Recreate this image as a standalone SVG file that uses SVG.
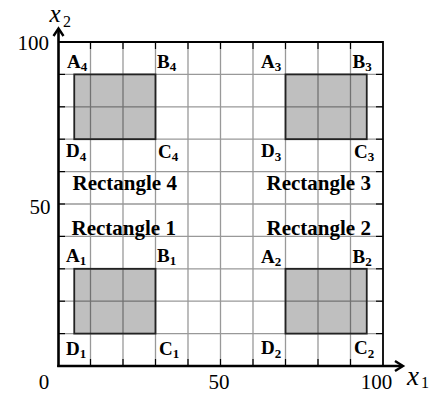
<svg xmlns="http://www.w3.org/2000/svg" width="431" height="393" viewBox="0 0 431 393">
<defs>
<style>
.grid line{stroke:#999;stroke-width:1.3}
.tick line{stroke:#000;stroke-width:1.2}
.box{fill:#000;fill-opacity:0.25;stroke:#222;stroke-width:1.8}
text{font-family:'Liberation Serif','DejaVu Serif',serif;fill:#000}
.lbl{font-weight:bold;font-size:19px}
.sub{font-size:13px}
.title{font-weight:bold;font-size:21px}
.num{font-size:21px}
.ax{font-style:italic;font-size:27px}
.axs{font-size:16px}
</style>
</defs>
<rect width="431" height="393" fill="#fff"/>
<g id="grid" class="grid">
<line x1="90.5" y1="42" x2="90.5" y2="366"/>
<line x1="123" y1="42" x2="123" y2="366"/>
<line x1="155.5" y1="42" x2="155.5" y2="366"/>
<line x1="188" y1="42" x2="188" y2="366"/>
<line x1="220.5" y1="42" x2="220.5" y2="366"/>
<line x1="253" y1="42" x2="253" y2="366"/>
<line x1="285.5" y1="42" x2="285.5" y2="366"/>
<line x1="318" y1="42" x2="318" y2="366"/>
<line x1="350.5" y1="42" x2="350.5" y2="366"/>
<line x1="58" y1="74.4" x2="383" y2="74.4"/>
<line x1="58" y1="106.8" x2="383" y2="106.8"/>
<line x1="58" y1="139.2" x2="383" y2="139.2"/>
<line x1="58" y1="171.6" x2="383" y2="171.6"/>
<line x1="58" y1="204" x2="383" y2="204"/>
<line x1="58" y1="236.4" x2="383" y2="236.4"/>
<line x1="58" y1="268.8" x2="383" y2="268.8"/>
<line x1="58" y1="301.2" x2="383" y2="301.2"/>
<line x1="58" y1="333.6" x2="383" y2="333.6"/>
</g>
<g id="rect4">
<rect class="box" x="74.25" y="74.4" width="81.25" height="64.8"/>
<text class="lbl" x="67" y="67.5">A<tspan class="sub" dy="3.5">4</tspan></text>
<text class="lbl" x="157" y="67.5">B<tspan class="sub" dy="3.5">4</tspan></text>
<text class="lbl" x="66" y="157">D<tspan class="sub" dy="3.5">4</tspan></text>
<text class="lbl" x="158" y="157.5">C<tspan class="sub" dy="3.5">4</tspan></text>
<text class="title" x="72.5" y="189.7">Rectangle 4</text>
</g>
<g id="rect3">
<rect class="box" x="285.5" y="74.4" width="81.25" height="64.8"/>
<text class="lbl" x="261" y="67.5">A<tspan class="sub" dy="3.5">3</tspan></text>
<text class="lbl" x="352.5" y="67.5">B<tspan class="sub" dy="3.5">3</tspan></text>
<text class="lbl" x="261" y="157">D<tspan class="sub" dy="3.5">3</tspan></text>
<text class="lbl" x="354" y="157.5">C<tspan class="sub" dy="3.5">3</tspan></text>
<text class="title" x="266.5" y="189.7">Rectangle 3</text>
</g>
<g id="rect1">
<rect class="box" x="74.25" y="268.8" width="81.25" height="64.8"/>
<text class="lbl" x="66" y="261.5">A<tspan class="sub" dy="3.5">1</tspan></text>
<text class="lbl" x="157" y="261.5">B<tspan class="sub" dy="3.5">1</tspan></text>
<text class="lbl" x="66" y="354.5">D<tspan class="sub" dy="3.5">1</tspan></text>
<text class="lbl" x="159" y="354.5">C<tspan class="sub" dy="3.5">1</tspan></text>
<text class="title" x="71.5" y="235">Rectangle 1</text>
</g>
<g id="rect2">
<rect class="box" x="285.5" y="268.8" width="81.25" height="64.8"/>
<text class="lbl" x="261" y="262.5">A<tspan class="sub" dy="3.5">2</tspan></text>
<text class="lbl" x="352.5" y="262.5">B<tspan class="sub" dy="3.5">2</tspan></text>
<text class="lbl" x="261" y="354">D<tspan class="sub" dy="3.5">2</tspan></text>
<text class="lbl" x="354" y="354">C<tspan class="sub" dy="3.5">2</tspan></text>
<text class="title" x="266.5" y="235">Rectangle 2</text>
</g>
<g id="ticks" class="tick">
<line x1="90.5" y1="42" x2="90.5" y2="49"/><line x1="123" y1="42" x2="123" y2="49"/><line x1="155.5" y1="42" x2="155.5" y2="49"/><line x1="188" y1="42" x2="188" y2="49"/><line x1="220.5" y1="42" x2="220.5" y2="49"/><line x1="253" y1="42" x2="253" y2="49"/><line x1="285.5" y1="42" x2="285.5" y2="49"/><line x1="318" y1="42" x2="318" y2="49"/><line x1="350.5" y1="42" x2="350.5" y2="49"/>
<line x1="90.5" y1="366" x2="90.5" y2="359"/><line x1="123" y1="366" x2="123" y2="359"/><line x1="155.5" y1="366" x2="155.5" y2="359"/><line x1="188" y1="366" x2="188" y2="359"/><line x1="220.5" y1="366" x2="220.5" y2="359"/><line x1="253" y1="366" x2="253" y2="359"/><line x1="285.5" y1="366" x2="285.5" y2="359"/><line x1="318" y1="366" x2="318" y2="359"/><line x1="350.5" y1="366" x2="350.5" y2="359"/>
<line x1="58" y1="74.4" x2="65" y2="74.4"/><line x1="58" y1="106.8" x2="65" y2="106.8"/><line x1="58" y1="139.2" x2="65" y2="139.2"/><line x1="58" y1="171.6" x2="65" y2="171.6"/><line x1="58" y1="204" x2="65" y2="204"/><line x1="58" y1="236.4" x2="65" y2="236.4"/><line x1="58" y1="268.8" x2="65" y2="268.8"/><line x1="58" y1="301.2" x2="65" y2="301.2"/><line x1="58" y1="333.6" x2="65" y2="333.6"/>
<line x1="383" y1="74.4" x2="376" y2="74.4"/><line x1="383" y1="106.8" x2="376" y2="106.8"/><line x1="383" y1="139.2" x2="376" y2="139.2"/><line x1="383" y1="171.6" x2="376" y2="171.6"/><line x1="383" y1="204" x2="376" y2="204"/><line x1="383" y1="236.4" x2="376" y2="236.4"/><line x1="383" y1="268.8" x2="376" y2="268.8"/><line x1="383" y1="301.2" x2="376" y2="301.2"/><line x1="383" y1="333.6" x2="376" y2="333.6"/>
</g>
<g id="axes" fill="none" stroke="#000">
<polyline points="58.5,42 383,42 383,366" stroke-width="1.8"/>
<line x1="58.5" y1="367" x2="58.5" y2="29" stroke-width="2.6"/>
<line x1="57.2" y1="366" x2="402" y2="366" stroke-width="2.6"/>
<polyline points="53.5,36 58.5,28.5 63.5,36" stroke-width="2.4" stroke-linejoin="miter"/>
<polyline points="395,361 403,366 395,371" stroke-width="2.4" stroke-linejoin="miter"/>
</g>
<g id="axis-labels">
<text class="ax" x="49.5" y="22" style="font-size:25px">x</text><text class="axs" x="63" y="26.5">2</text>
<text class="ax" x="407" y="384.5">x</text><text class="axs" x="421" y="388">1</text>
<text class="num" x="49" y="50" text-anchor="end">100</text>
<text class="num" x="50.5" y="214" text-anchor="end">50</text>
<text class="num" x="44" y="388.5" text-anchor="middle">0</text>
<text class="num" x="219" y="388.5" text-anchor="middle">50</text>
<text class="num" x="376.5" y="388.5" text-anchor="middle">100</text>
</g>
</svg>
